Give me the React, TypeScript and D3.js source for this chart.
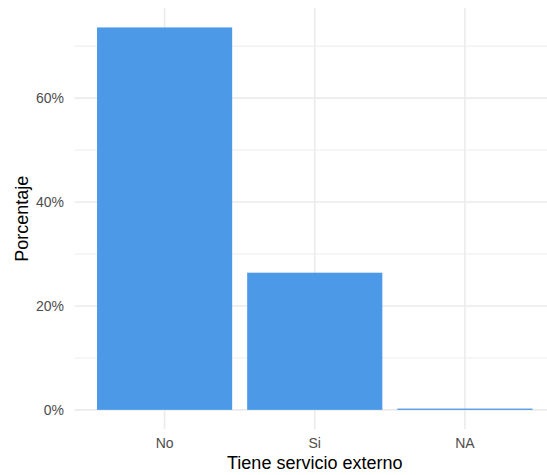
import React from "react";
import * as d3 from "d3";

const categories = ["No", "Si", "NA"];
const values = [73.6, 26.4, 0.25];
const yTicks = [0, 20, 40, 60];
const yMinor = [10, 30, 50, 70];

export default function App() {
  const W = 547, H = 475;
  const left = 74.5, right = 555, top = 8.3, bottom = 429;
  const maxV = d3.max(values) as number;
  const pad = maxV * 0.05;
  const y = d3.scaleLinear().domain([-pad, maxV + pad]).range([bottom, top]);
  const x = d3.scaleBand().domain(categories).range([left, right]).paddingOuter(0.1 / 0.9 * 0).padding(0);
  // ggplot-style discrete: positions 1..n, limits 0.4..n+0.6
  const xc = d3.scaleLinear().domain([0.4, categories.length + 0.6]).range([left, right]);
  const bw = xc(1.45) - xc(1);
  const grid = "#EBEBEB";
  const font = "'Liberation Sans', Arial, Helvetica, sans-serif";
  return (
    <svg width={W} height={H} style={{ position: "absolute", left: 0, top: 0, background: "#fff" }}>
      <g>
        {yMinor.map((t) => (
          <line key={"m" + t} x1={left} x2={right} y1={y(t)} y2={y(t)} stroke={grid} strokeWidth={0.9} />
        ))}
        {yTicks.map((t) => (
          <line key={"M" + t} x1={left} x2={right} y1={y(t)} y2={y(t)} stroke={grid} strokeWidth={1.6} />
        ))}
        {categories.map((c, i) => (
          <line key={"v" + c} x1={xc(i + 1)} x2={xc(i + 1)} y1={top} y2={bottom} stroke={grid} strokeWidth={1.6} />
        ))}
        {categories.map((c, i) => (
          <rect key={"b" + c} x={xc(i + 1) - bw} width={bw * 2} y={y(values[i])} height={y(0) - y(values[i])} fill="#4C99E8" />
        ))}
        {yTicks.map((t) => (
          <text key={"t" + t} x={64} y={y(t)} dy="0.36em" textAnchor="end" fontSize={14} fill="#4D4D4D" fontFamily={font}>
            {t + "%"}
          </text>
        ))}
        {categories.map((c, i) => (
          <text key={"l" + c} x={xc(i + 1)} y={447.5} textAnchor="middle" fontSize={14} fill="#4D4D4D" fontFamily={font}>
            {c}
          </text>
        ))}
        <text x={(left + right) / 2} y={469} textAnchor="middle" fontSize={18} fill="#000" fontFamily={font}>
          Tiene servicio externo
        </text>
        <text transform={`translate(27.5, ${(top + bottom) / 2}) rotate(-90)`} textAnchor="middle" fontSize={18} fill="#000" fontFamily={font}>
          Porcentaje
        </text>
      </g>
    </svg>
  );
}
